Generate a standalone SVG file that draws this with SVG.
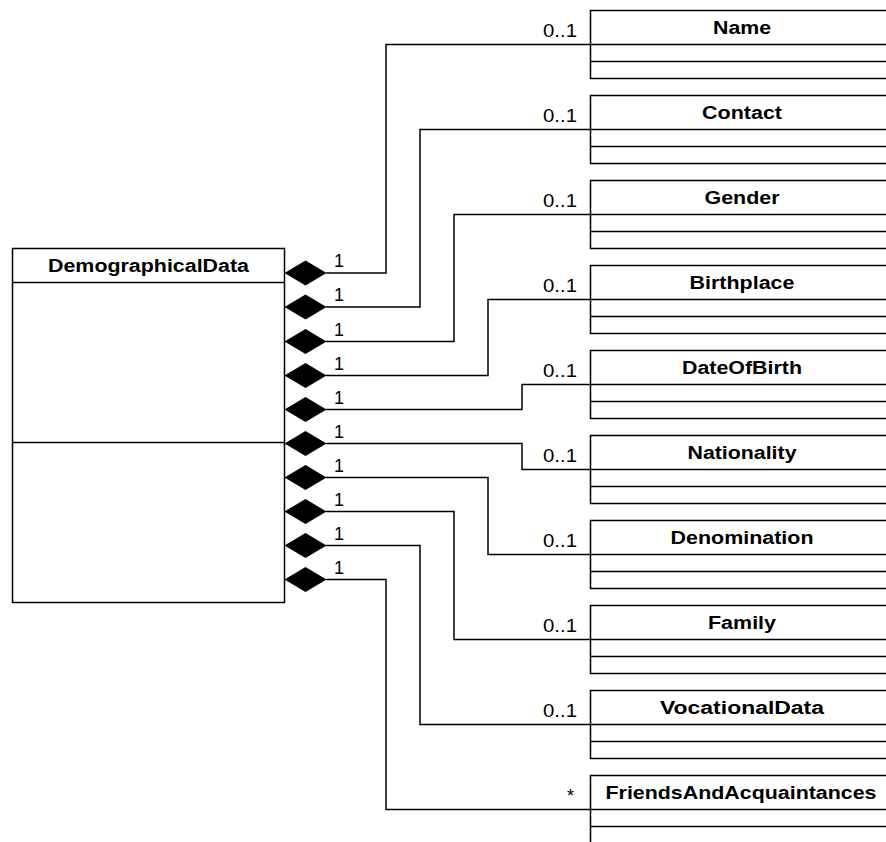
<svg xmlns="http://www.w3.org/2000/svg" width="886" height="842" viewBox="0 0 886 842">
  <style>
    .box { fill: #ffffff; stroke: #000000; stroke-width: 1.5; }
    .sep { stroke: #000000; stroke-width: 1.5; }
    .title { font-family: "Liberation Sans", Arial, sans-serif; font-weight: bold; font-size: 18px; text-anchor: middle; fill: #000000; }
    .mult { font-family: "Liberation Sans", Arial, sans-serif; font-size: 18px; fill: #000000; }
    .end { text-anchor: end; }
    .wire { fill: none; stroke: #000000; stroke-width: 1.5; }
    .diamond { fill: #000000; stroke: none; }
  </style>
  <defs>
    <!-- composition diamond, left tip at origin -->
    <path id="comp" class="diamond" d="M0,0 L21,-12.5 L42,0 L21,12.5 Z"/>
    <!-- class box: header and two compartments, open past the right edge -->
    <g id="cls">
      <rect class="box" x="0" y="0" width="320" height="68"/>
      <line class="sep" x1="0" y1="34" x2="320" y2="34"/>
      <line class="sep" x1="0" y1="51" x2="320" y2="51"/>
    </g>
  </defs>

  <rect width="886" height="842" fill="#ffffff"/>

  <!-- composite class -->
  <g id="DemographicalData">
    <rect class="box" x="12.5" y="248.5" width="272" height="354"/>
    <line class="sep" x1="12.5" y1="282.5" x2="284.5" y2="282.5"/>
    <line class="sep" x1="12.5" y1="442.5" x2="284.5" y2="442.5"/>
    <text class="title" x="148.5" y="272" textLength="201" lengthAdjust="spacingAndGlyphs">DemographicalData</text>
  </g>

  <!-- part classes -->
  <g id="Name"><use href="#cls" x="590.5" y="10.5"/><text class="title" x="742" y="34" textLength="58" lengthAdjust="spacingAndGlyphs">Name</text></g>
  <g id="Contact"><use href="#cls" x="590.5" y="95.5"/><text class="title" x="742" y="119" textLength="80" lengthAdjust="spacingAndGlyphs">Contact</text></g>
  <g id="Gender"><use href="#cls" x="590.5" y="180.5"/><text class="title" x="742" y="204" textLength="75" lengthAdjust="spacingAndGlyphs">Gender</text></g>
  <g id="Birthplace"><use href="#cls" x="590.5" y="265.5"/><text class="title" x="742" y="289" textLength="105" lengthAdjust="spacingAndGlyphs">Birthplace</text></g>
  <g id="DateOfBirth"><use href="#cls" x="590.5" y="350.5"/><text class="title" x="742" y="374" textLength="120" lengthAdjust="spacingAndGlyphs">DateOfBirth</text></g>
  <g id="Nationality"><use href="#cls" x="590.5" y="435.5"/><text class="title" x="742" y="459" textLength="109" lengthAdjust="spacingAndGlyphs">Nationality</text></g>
  <g id="Denomination"><use href="#cls" x="590.5" y="520.5"/><text class="title" x="742" y="544" textLength="143" lengthAdjust="spacingAndGlyphs">Denomination</text></g>
  <g id="Family"><use href="#cls" x="590.5" y="605.5"/><text class="title" x="742" y="629" textLength="68" lengthAdjust="spacingAndGlyphs">Family</text></g>
  <g id="VocationalData"><use href="#cls" x="590.5" y="690.5"/><text class="title" x="742" y="714" textLength="164" lengthAdjust="spacingAndGlyphs">VocationalData</text></g>
  <g id="FriendsAndAcquaintances"><use href="#cls" x="590.5" y="775.5"/><text class="title" x="741" y="799" textLength="271" lengthAdjust="spacingAndGlyphs">FriendsAndAcquaintances</text></g>

  <!-- composition connectors -->
  <g id="connectors">
    <polyline class="wire" points="326,273 386,273 386,44.5 590,44.5"/>
    <polyline class="wire" points="326,307 420,307 420,129.5 590,129.5"/>
    <polyline class="wire" points="326,341.5 454,341.5 454,214.5 590,214.5"/>
    <polyline class="wire" points="326,375.5 488,375.5 488,299.5 590,299.5"/>
    <polyline class="wire" points="326,409.5 522,409.5 522,384.5 590,384.5"/>
    <polyline class="wire" points="326,443.5 522,443.5 522,469.5 590,469.5"/>
    <polyline class="wire" points="326,477.5 488,477.5 488,554.5 590,554.5"/>
    <polyline class="wire" points="326,511.5 454,511.5 454,639.5 590,639.5"/>
    <polyline class="wire" points="326,545.5 420,545.5 420,724.5 590,724.5"/>
    <polyline class="wire" points="326,579.5 386,579.5 386,809.5 590,809.5"/>

    <use href="#comp" x="284.5" y="273"/>
    <use href="#comp" x="284.5" y="307"/>
    <use href="#comp" x="284.5" y="341.5"/>
    <use href="#comp" x="284.5" y="375.5"/>
    <use href="#comp" x="284.5" y="409.5"/>
    <use href="#comp" x="284.5" y="443.5"/>
    <use href="#comp" x="284.5" y="477.5"/>
    <use href="#comp" x="284.5" y="511.5"/>
    <use href="#comp" x="284.5" y="545.5"/>
    <use href="#comp" x="284.5" y="579.5"/>

    <text class="mult" x="334" y="267">1</text>
    <text class="mult" x="334" y="301">1</text>
    <text class="mult" x="334" y="335.5">1</text>
    <text class="mult" x="334" y="369.5">1</text>
    <text class="mult" x="334" y="403.5">1</text>
    <text class="mult" x="334" y="437.5">1</text>
    <text class="mult" x="334" y="471.5">1</text>
    <text class="mult" x="334" y="505.5">1</text>
    <text class="mult" x="334" y="539.5">1</text>
    <text class="mult" x="334" y="573.5">1</text>

    <text class="mult end" x="577" y="37" textLength="34" lengthAdjust="spacingAndGlyphs">0..1</text>
    <text class="mult end" x="577" y="122" textLength="34" lengthAdjust="spacingAndGlyphs">0..1</text>
    <text class="mult end" x="577" y="207" textLength="34" lengthAdjust="spacingAndGlyphs">0..1</text>
    <text class="mult end" x="577" y="292" textLength="34" lengthAdjust="spacingAndGlyphs">0..1</text>
    <text class="mult end" x="577" y="377" textLength="34" lengthAdjust="spacingAndGlyphs">0..1</text>
    <text class="mult end" x="577" y="462" textLength="34" lengthAdjust="spacingAndGlyphs">0..1</text>
    <text class="mult end" x="577" y="547" textLength="34" lengthAdjust="spacingAndGlyphs">0..1</text>
    <text class="mult end" x="577" y="632" textLength="34" lengthAdjust="spacingAndGlyphs">0..1</text>
    <text class="mult end" x="577" y="717" textLength="34" lengthAdjust="spacingAndGlyphs">0..1</text>
    <text class="mult end" x="574" y="802">*</text>
  </g>
</svg>
